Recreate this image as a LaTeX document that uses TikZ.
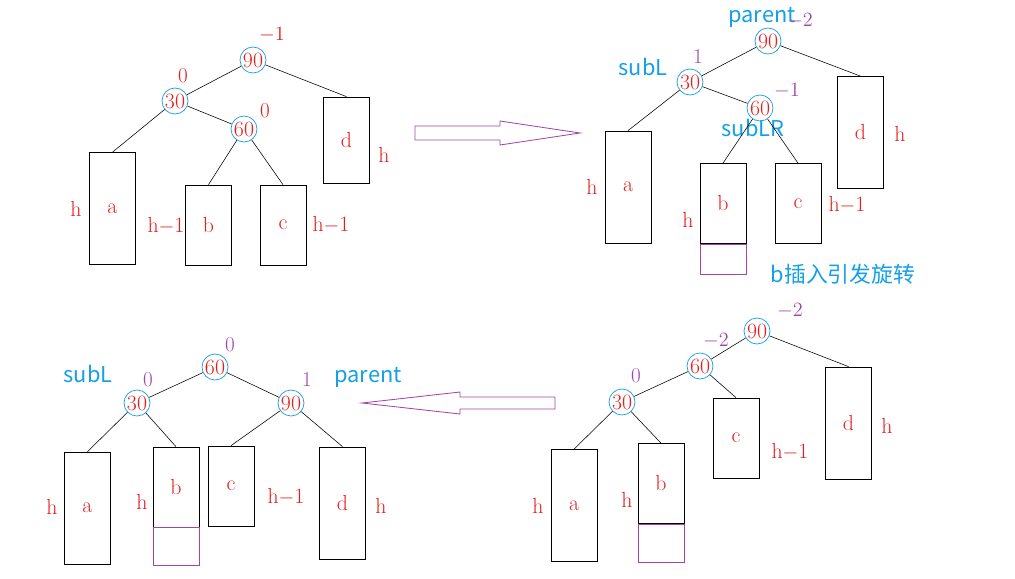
\documentclass[tikz,border=0pt]{standalone}
\usepackage{fontspec}
\newfontfamily\cjk{Noto Sans CJK SC}
\definecolor{bfred}{RGB}{230,30,30}
\definecolor{bfcyan}{RGB}{20,160,230}
\definecolor{bfpurple}{RGB}{160,70,170}
\tikzset{
  key/.style={circle, draw=bfcyan, line width=0.5pt, inner sep=0pt, minimum size=0.65cm,
          text=bfred, font=\fontsize{15.5}{15.5}\selectfont},
  tree/.style={rectangle, draw=black, line width=0.5pt, inner sep=0pt,
          text=bfred, font=\fontsize{15.5}{15.5}\selectfont},
  ht/.style={text=bfred, inner sep=0pt, font=\fontsize{15.5}{15.5}\selectfont},
  bfr/.style={text=bfred, inner sep=0pt, font=\fontsize{15}{15}\selectfont},
  bfp/.style={text=bfpurple, inner sep=0pt, font=\fontsize{15}{15}\selectfont},
  tag/.style={text=bfcyan, inner sep=0pt, font=\cjk\fontsize{15.5}{15.5}\selectfont},
  edge/.style={draw=black, line width=0.4pt},
  turn/.style={draw=bfpurple, line width=0.6pt},
  newb/.style={rectangle, draw=bfpurple, line width=0.5pt, inner sep=0pt}
}
\begin{document}
\begin{tikzpicture}[x=0.025cm, y=-0.025cm]
\useasboundingbox (0,0) rectangle (1015,579);

% before insertion
\node[key] (a90) at (253,60) {90};
\node[key] (a30) at (175,101) {30};
\node[key] (a60) at (244,129) {60};
\node[tree, minimum width=1.15cm, minimum height=2.8cm] (aa) at (112.5,208.5) {a};
\node[tree, minimum width=1.15cm, minimum height=2cm] (ab) at (208.5,225) {b};
\node[tree, minimum width=1.15cm, minimum height=2cm] (ac) at (283,225) {c};
\node[tree, minimum width=1.15cm, minimum height=2.15cm] (ad) at (346.5,140) {d};
\node[bfr] at (272,35) {$-1$};
\node[bfr] at (183,76) {0};
\node[bfr] at (265,111) {0};
\node[ht] at (76,209) {h};
\node[ht] at (166,226) {h$-$1};
\node[ht] at (331,225) {h$-$1};
\node[ht] at (384,155) {h};
\draw[edge] (a90) -- (a30);
\draw[edge] (a90) -- (ad.north);
\draw[edge] (a30) -- (aa.north);
\draw[edge] (a30) -- (a60);
\draw[edge] (a60) -- (ab.north);
\draw[edge] (a60) -- (ac.north);

\draw[turn] (415,126) -- (500,126) -- (500,121) -- (580,133) -- (500,145) -- (500,140) -- (415,140) -- cycle;

% after insertion of b
\node[key] (b90) at (768,41) {90};
\node[key] (b30) at (690,82) {30};
\node[key] (b60) at (760,108) {60};
\node[tree, minimum width=1.15cm, minimum height=2.8cm] (ba) at (628,187) {a};
\node[tree, minimum width=1.15cm, minimum height=2cm] (bb) at (723,203.5) {b};
\node[newb, minimum width=1.15cm, minimum height=0.75cm, anchor=north] (bn) at (bb.south) {};
\node[tree, minimum width=1.15cm, minimum height=2cm] (bc) at (798,203.5) {c};
\node[tree, minimum width=1.15cm, minimum height=2.8cm] (bd) at (860.5,132.5) {d};
\node[tag] at (762,17) {parent};
\node[bfp] at (800,21) {$-2$};
\node[tag] at (643,67) {subL};
\node[bfp] at (698,57) {1};
\node[bfp] at (787,91) {$-1$};
\node[tag] at (753,128) {subLR};
\node[ht] at (592,187) {h};
\node[ht] at (688,220) {h};
\node[ht] at (847,205) {h$-$1};
\node[ht] at (900,134) {h};
\node[tag] at (843,274) {b插入引发旋转};
\draw[edge] (b90) -- (b30);
\draw[edge] (b90) -- (bd.north);
\draw[edge] (b30) -- (ba.north);
\draw[edge] (b30) -- (b60);
\draw[edge] (b60) -- (bb.north);
\draw[edge] (b60) -- (bc.north);

% after left rotation on subL
\node[key] (c90) at (757,331) {90};
\node[key] (c60) at (700,366) {60};
\node[key] (c30) at (622,402) {30};
\node[tree, minimum width=1.15cm, minimum height=2.8cm] (ca) at (574,505.5) {a};
\node[tree, minimum width=1.15cm, minimum height=2cm] (cb) at (661,483.5) {b};
\node[newb, minimum width=1.15cm, minimum height=0.95cm, anchor=north] (cn) at (cb.south) {};
\node[tree, minimum width=1.15cm, minimum height=2cm] (cc) at (736,438) {c};
\node[tree, minimum width=1.15cm, minimum height=2.8cm] (cd) at (848.5,423) {d};
\node[bfp] at (790,311) {$-2$};
\node[bfp] at (716,341) {$-2$};
\node[bfp] at (636,376) {0};
\node[ht] at (538,506) {h};
\node[ht] at (627,500) {h};
\node[ht] at (790,452) {h$-$1};
\node[ht] at (887,426) {h};
\draw[edge] (c90) -- (c60);
\draw[edge] (c90) -- (cd.north);
\draw[edge] (c60) -- (c30);
\draw[edge] (c60) -- (cc.north);
\draw[edge] (c30) -- (ca.north);
\draw[edge] (c30) -- (cb.north);

\draw[turn] (555,397) -- (460,397) -- (460,392) -- (362,403) -- (460,414) -- (460,409) -- (555,409) -- cycle;

% after right rotation on parent
\node[key] (d60) at (215,367) {60};
\node[key] (d30) at (137,403) {30};
\node[key] (d90) at (291,403) {90};
\node[tree, minimum width=1.15cm, minimum height=2.8cm] (da) at (87.5,508) {a};
\node[tree, minimum width=1.15cm, minimum height=2cm] (db) at (176,487) {b};
\node[newb, minimum width=1.15cm, minimum height=0.95cm, anchor=north] (dn) at (db.south) {};
\node[tree, minimum width=1.15cm, minimum height=2cm] (dc) at (231,486) {c};
\node[tree, minimum width=1.15cm, minimum height=2.8cm] (dd) at (342.5,503) {d};
\node[bfp] at (230,345) {0};
\node[bfp] at (148,380) {0};
\node[tag] at (88,374) {subL};
\node[bfp] at (307,380) {1};
\node[tag] at (368,377) {parent};
\node[ht] at (52,507) {h};
\node[ht] at (142,502) {h};
\node[ht] at (286,497) {h$-$1};
\node[ht] at (381,506) {h};
\draw[edge] (d60) -- (d30);
\draw[edge] (d60) -- (d90);
\draw[edge] (d30) -- (da.north);
\draw[edge] (d30) -- (db.north);
\draw[edge] (d90) -- (dc.north);
\draw[edge] (d90) -- (dd.north);
\end{tikzpicture}
\end{document}
